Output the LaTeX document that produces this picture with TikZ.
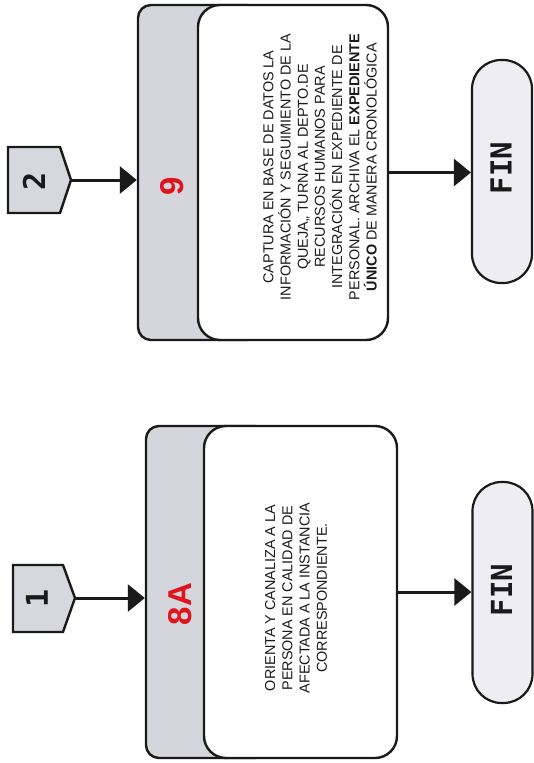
\documentclass[tikz,border=0pt]{standalone}
\usepackage{fontspec}
\setmainfont{Liberation Sans}
\newfontfamily\monob{DejaVu Sans Mono}
\usetikzlibrary{arrows.meta,calc}
\definecolor{bandgray}{HTML}{D4D6DC}
\definecolor{pentgray}{HTML}{D6D8DE}
\definecolor{fingray}{HTML}{EDEDF2}
\definecolor{numred}{HTML}{E0121C}
\definecolor{inkdark}{HTML}{1A1A1A}
\begin{document}
\begin{tikzpicture}[x={(1pt,0pt)}, y={(0pt,-1pt)},
  bandbox/.style={draw=inkdark, line width=2.4pt, fill=bandgray, rounded corners=13pt, inner sep=0pt},
  whitebox/.style={draw=inkdark, line width=2.4pt, fill=white, rounded corners=22pt, inner sep=0pt},
  finbox/.style={draw=inkdark, line width=2.2pt, fill=fingray, rounded corners=29pt, minimum width=60pt, inner sep=0pt},
  bodytext/.style={rotate=90, align=center, text=inkdark, font=\fontsize{14.4}{17.2}\selectfont, inner sep=0pt},
  stepnum/.style={rotate=90, inner sep=0pt, text=numred, font=\fontsize{33}{33}\selectfont\bfseries},
  fintext/.style={rotate=90, inner sep=0pt, text=inkdark, font=\monob\fontsize{29}{29}\selectfont\bfseries},
  pentnum/.style={rotate=90, inner sep=0pt, text=inkdark, font=\monob\fontsize{30}{30}\selectfont\bfseries},
  pent/.style={draw=inkdark, line width=2.4pt, fill=pentgray, line join=miter},
  flow/.style={draw=inkdark, line width=3pt, -{Triangle[length=17pt,width=27pt]}}
]
\useasboundingbox[fill=white] (0,0) rectangle (534,763);

% ---------- top group (step 9) ----------
\draw[pent] (8,147) -- (60,147) -- (71,180) -- (60,213) -- (8,213) -- cycle;
\node[pentnum] (p2) at (34,181) {2};
\coordinate (p2tip) at (71,180);

\node[bandbox, minimum width=122pt, minimum height=335pt] (band9) at (199,172.5) {};
\node[whitebox, minimum width=190pt, minimum height=335pt] (box9) at (293,172.5) {};
\node[stepnum] (n9) at (172,186) {9};
\node[bodytext] (t9) at (320,167) {CAPTURA EN BASE DE DATOS LA\\
INFORMACIÓN Y SEGUIMIENTO DE LA\\
QUEJA,, TURNA AL DEPTO.DE\\
RECURSOS HUMANOS PARA\\
INTEGRACIÓN EN EXPEDIENTE DE\\
PERSONAL. ARCHIVA EL \textbf{EXPEDIENTE}\\
\textbf{ÚNICO} DE MANERA CRONOLÓGICA};

\node[finbox, minimum height=223pt] (fin1) at (502,171.5) {};
\node[fintext] (f1t) at (501,168) {FIN};

\draw[flow] (p2tip) -- (p2tip -| band9.west);
\draw[flow] (box9.east) -- (box9.east -| fin1.west);

% ---------- bottom group (step 8A) ----------
\draw[pent] (13,565) -- (63,565) -- (75,598) -- (63,632) -- (13,632) -- cycle;
\node[pentnum] (p1) at (37,598) {1};
\coordinate (p1tip) at (75,598);

\node[bandbox, minimum width=122pt, minimum height=332pt] (band8) at (207,592) {};
\node[whitebox, minimum width=193pt, minimum height=332pt] (box8) at (300.5,592) {};
\node[stepnum] (n8) at (180,604) {8A};
\node[bodytext] (t8) at (296,598) {ORIENTA Y CANALIZA A LA\\
PERSONA EN CALIDAD DE\\
AFECTADA A LA INSTANCIA\\
CORRESPONDIENTE.};

\node[finbox, minimum height=221pt] (fin2) at (502.5,592.5) {};
\node[fintext] (f2t) at (501.5,590) {FIN};

\draw[flow] (p1tip) -- (p1tip -| band8.west);
\draw[flow] (box8.east) -- (box8.east -| fin2.west);
\end{tikzpicture}
\end{document}
